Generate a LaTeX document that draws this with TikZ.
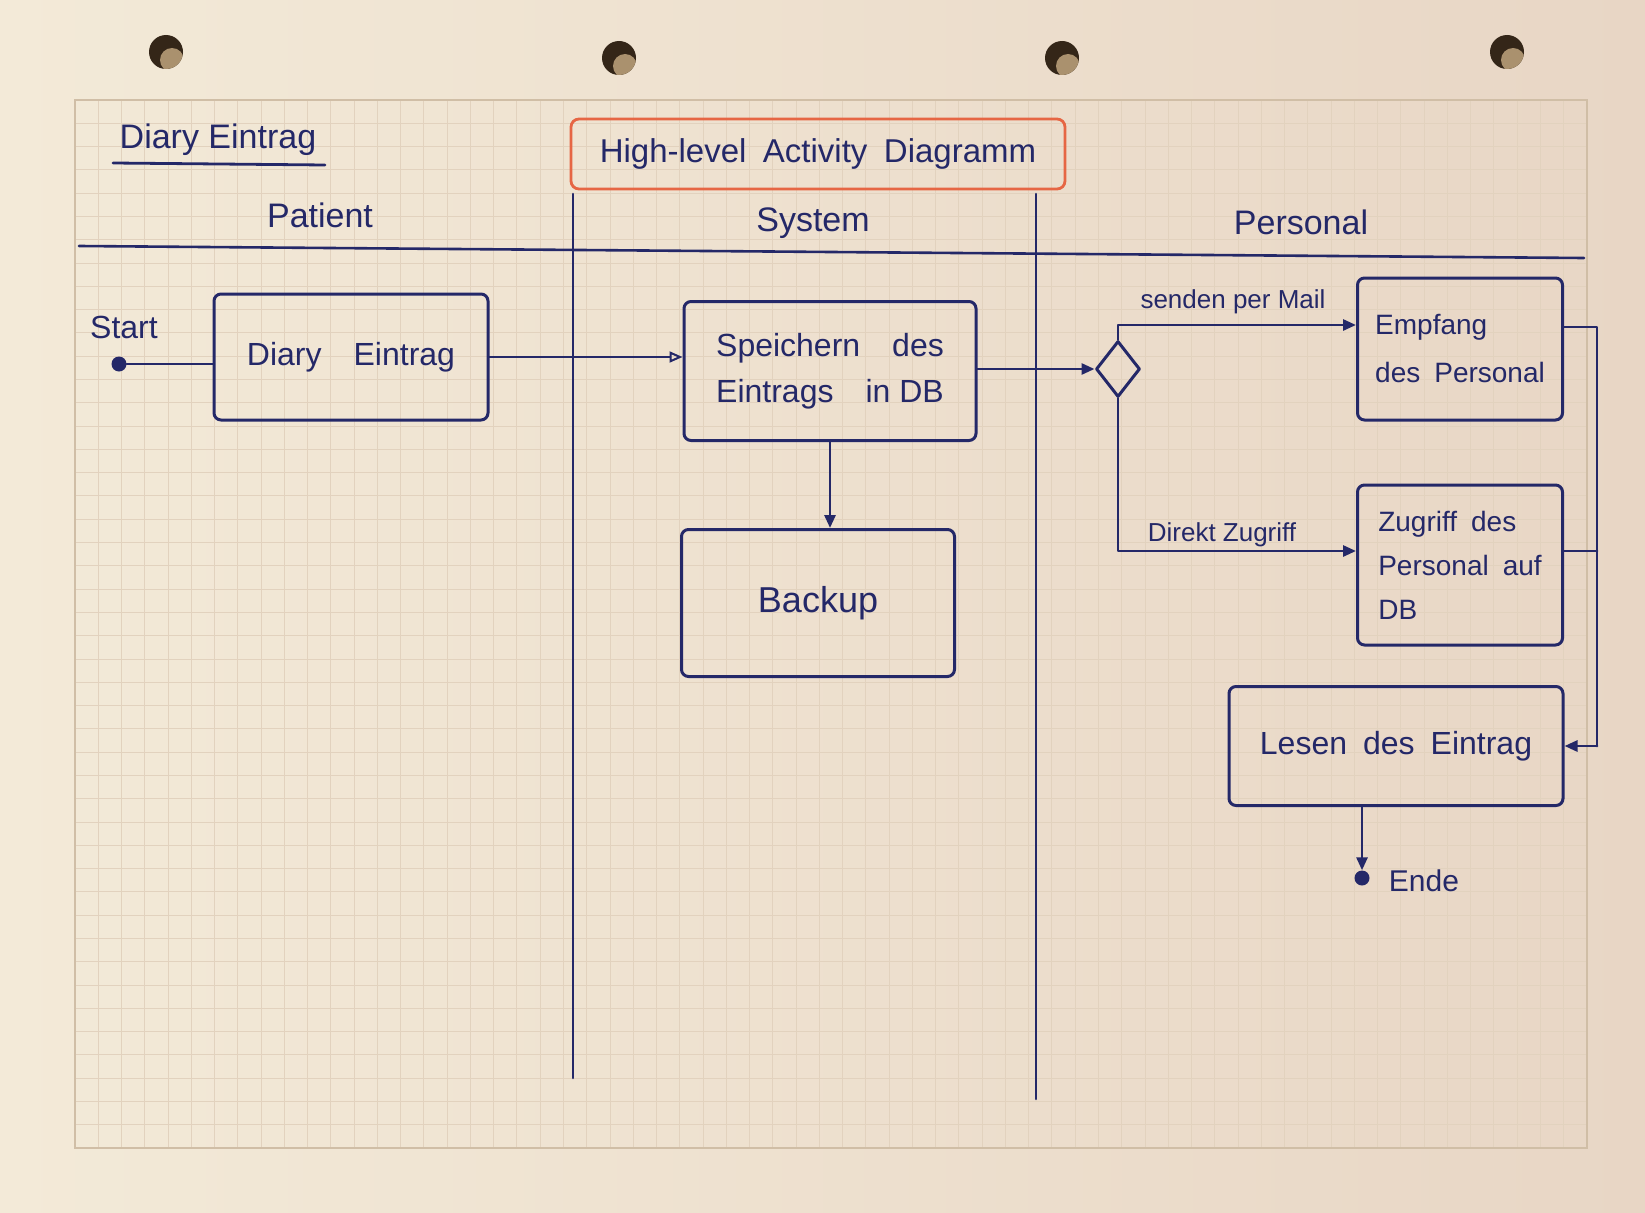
\documentclass[tikz,border=0pt]{standalone}
\usepackage{fontspec}
\setmainfont{Liberation Sans}
\usetikzlibrary{shapes.geometric,arrows.meta,calc}
\definecolor{ink}{RGB}{36,40,104}
\definecolor{redink}{RGB}{230,102,68}
\definecolor{paperlight}{RGB}{243,234,216}
\definecolor{paperdark}{RGB}{232,214,197}
\definecolor{gridline}{RGB}{226,210,190}
\definecolor{gridedge}{RGB}{208,190,166}
\definecolor{holedark}{RGB}{52,38,24}
\definecolor{holelight}{RGB}{170,145,110}
\begin{document}
\begin{tikzpicture}[x=1pt,y=-1pt,
  pen/.style={draw=ink, line width=3pt, line cap=round, line join=round},
  activity/.style={pen, rounded corners=7pt, inner sep=0pt, text=ink, align=left,
    font=\fontsize{32}{46}\selectfont},
  lanetext/.style={text=ink, inner sep=0pt, font=\fontsize{34}{40}\selectfont},
  flowlabel/.style={text=ink, inner sep=0pt, font=\fontsize{26}{30}\selectfont},
  flow/.style={pen, line width=2.8pt},
  tip/.style={-{Triangle[length=13pt,width=11pt]}},
  opentip/.style={-{Triangle[open,length=13pt,width=11pt,line width=2pt]}},
  lane/.style={draw=ink, line width=2.6pt, line cap=round},
]
% sheet of squared paper
\useasboundingbox (0,0) rectangle (1645,1212);
\shade[left color=paperlight, right color=paperdark] (0,0) rectangle (1645,1212);
\foreach \i in {0,...,65}
  \draw[gridline, line width=0.9pt] ({75+\i*23.26},100) -- ({75+\i*23.26},1148);
\foreach \j in {0,...,45}
  \draw[gridline, line width=0.9pt] (75,{100+\j*23.29}) -- (1587,{100+\j*23.29});
\draw[gridedge, line width=1.4pt] (75,100) rectangle (1587,1148);

% punched holes
\foreach \hx/\hy in {166/52, 619/58, 1062/58, 1507/52}{
  \fill[holedark] (\hx,\hy) circle (17);
  \begin{scope}
    \clip (\hx,\hy) circle (17);
    \fill[holelight] ({\hx+6},{\hy+8}) circle (12);
  \end{scope}
}

% heading
\node[lanetext] (title) at (218,140) {Diary Eintrag};
\draw[pen, line width=2.8pt] (113,163) -- (325,165);
\node[draw=redink, line width=2.8pt, rounded corners=8pt, minimum width=494pt,
      minimum height=70pt, text=ink, font=\fontsize{33}{40}\selectfont]
      (heading) at (818,154) {High-level\enspace Activity\enspace Diagramm};

% swimlanes
\draw[lane] (79,246) -- (1584,258);
\draw[lane] (573,194) -- (573,1078);
\draw[lane] (1036,194) -- (1036,1099);
\node[lanetext] (lanePatient) at (320,215) {Patient};
\node[lanetext] (laneSystem) at (813,223) {System};
\node[lanetext] (lanePersonal) at (1301,222) {Personal};

% activities
\node[activity, minimum width=274pt, minimum height=126pt] (diary) at (351,357)
  {Diary\quad Eintrag};
\node[activity, minimum width=292pt, minimum height=139pt] (store) at (830,371)
  {Speichern\quad des\\Eintrags\quad in DB};
\node[activity, minimum width=273pt, minimum height=147pt,
      font=\fontsize{36}{42}\selectfont] (backup) at (818,603) {Backup};
\node[activity, minimum width=205pt, minimum height=142pt,
      font=\fontsize{28}{48}\selectfont] (receive) at (1460,349)
  {Empfang\\des\enspace Personal};
\node[activity, minimum width=205pt, minimum height=160pt,
      font=\fontsize{28}{44}\selectfont] (access) at (1460,565)
  {Zugriff\enspace des\\Personal\enspace auf\\DB};
\node[activity, minimum width=334pt, minimum height=119pt] (read) at (1396,746)
  {Lesen\enspace des\enspace Eintrag};
\node[pen, shape=diamond, inner sep=0pt, minimum width=44pt, minimum height=56pt]
  (choice) at (1118,369) {};

% start and end
\node[circle, fill=ink, inner sep=0pt, minimum size=15pt] (start) at (119,364) {};
\node[lanetext, font=\fontsize{32}{38}\selectfont] (startlabel) at (124,327) {Start};
\node[circle, fill=ink, inner sep=0pt, minimum size=15pt] (finish) at (1362,878) {};
\node[lanetext, font=\fontsize{30}{36}\selectfont] (finishlabel) at (1424,881) {Ende};

% control flow
\draw[flow] (start) -- (start -| diary.west);
\draw[flow, opentip] (diary.east) -- (diary.east -| store.west);
\draw[flow, tip] (store.south) -- (store.south |- backup.north);
\draw[flow, tip] (store.east |- choice.west) -- (choice.west);
\draw[flow, tip] (choice.north) |- ([yshift=24pt]receive.west);
\draw[flow, tip] (choice.south) |- ([yshift=14pt]access.west);
\node[flowlabel] (mailLabel) at (1233,302) {senden per Mail};
\node[flowlabel] (directLabel) at (1222,535) {Direkt Zugriff};

\coordinate (busTop) at (1597,327);
\coordinate (busBottom) at (1597,746);
\draw[flow] ([yshift=22pt]receive.east) -- ([yshift=22pt]receive.east -| busTop)
  -- (busBottom);
\draw[flow] ([yshift=14pt]access.east) -- ([yshift=14pt]access.east -| busTop);
\draw[flow, tip] (busBottom) -- (read.east);
\draw[flow, tip] ([xshift=-34pt]read.south) -- (finish.north);
\end{tikzpicture}
\end{document}
